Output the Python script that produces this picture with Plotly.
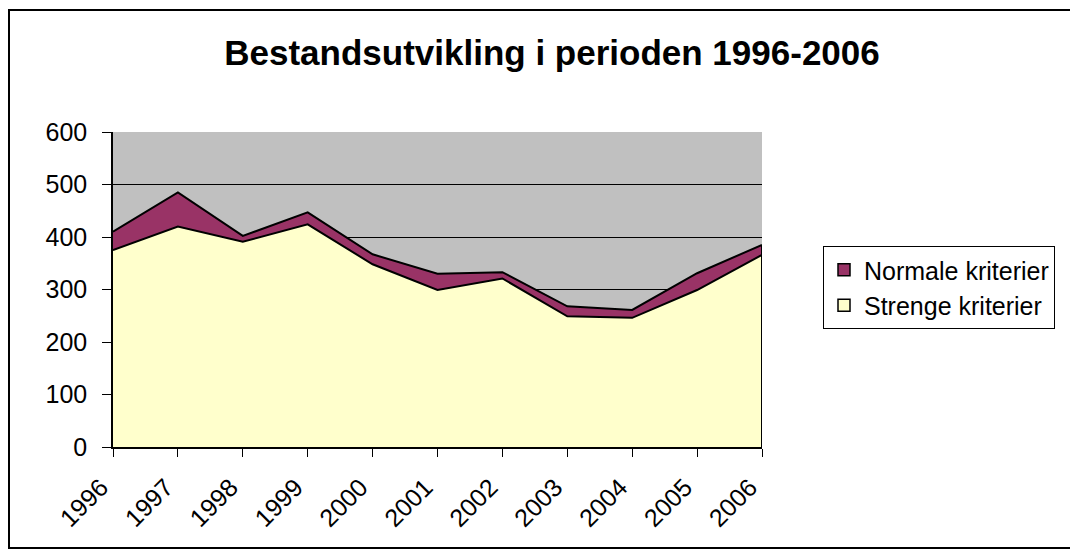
import plotly.graph_objects as go

years = [1996, 1997, 1998, 1999, 2000, 2001, 2002, 2003, 2004, 2005, 2006]
year_labels = [str(y) for y in years]
strenge = [375, 420, 391, 424, 348, 299, 321, 249, 246, 299, 366]
normale = [35, 65, 11, 23, 19, 31, 12, 19, 15, 32, 19]
y_ticks = [0, 100, 200, 300, 400, 500, 600]

FONT = "Liberation Sans, Arial, sans-serif"
C_STRENGE = "#FFFFCC"
C_NORMALE = "#993366"

fig = go.Figure()
fig.add_trace(go.Scatter(
    x=years, y=strenge, name="Strenge kriterier", stackgroup="one",
    mode="lines", line=dict(color="black", width=2),
    fillcolor=C_STRENGE, showlegend=False,
))
fig.add_trace(go.Scatter(
    x=years, y=normale, name="Normale kriterier", stackgroup="one",
    mode="lines", line=dict(color="black", width=2),
    fillcolor=C_NORMALE, showlegend=False,
))
# right edge of the area polygon
total_last = strenge[-1] + normale[-1]
fig.add_trace(go.Scatter(
    x=[years[-1], years[-1]], y=[0, total_last], mode="lines",
    line=dict(color="black", width=2), showlegend=False, hoverinfo="skip",
))
# legend entries with square swatches
fig.add_trace(go.Bar(x=[None], y=[None], name="Normale kriterier",
                     marker=dict(color=C_NORMALE, line=dict(color="black", width=1.5))))
fig.add_trace(go.Bar(x=[None], y=[None], name="Strenge kriterier",
                     marker=dict(color=C_STRENGE, line=dict(color="black", width=1.5))))

OFF = 8  # page body margin
L, R, T, B = 113 - OFF, 762 - OFF, 132 - OFF, 447 - OFF
W, H = 1078 - OFF, 553 - OFF
pw, ph = R - L, B - T

def px(x):
    return (x - OFF - L) / pw

def py(y):
    return (B - (y - OFF)) / ph

fig.add_shape(type="rect", xref="paper", yref="paper",
              x0=px(9), x1=px(1076), y0=py(548), y1=py(10),
              line=dict(color="black", width=2), layer="below")

fig.update_layout(
    width=W, height=H,
    margin=dict(l=L, r=W - R, t=T, b=H - B),
    paper_bgcolor="white",
    plot_bgcolor="#C0C0C0",
    font=dict(family=FONT, size=25, color="black"),
    title=dict(text="<b>Bestandsutvikling i perioden 1996-2006</b>",
               font=dict(family=FONT, size=35, color="black"),
               xref="paper", x=px(552), xanchor="center",
               yref="container", y=1 - (53 - OFF) / H, yanchor="middle"),
    legend=dict(x=px(823), y=py(246), xanchor="left", yanchor="top",
                bordercolor="black", borderwidth=1, bgcolor="white",
                traceorder="normal",
                font=dict(family=FONT, size=25, color="black")),
    showlegend=True,
)
fig.update_xaxes(
    range=[years[0], years[-1]], tickvals=years, ticktext=year_labels,
    tickangle=-45, ticks="outside", ticklen=8, tickcolor="black",
    showgrid=False, showline=True, linecolor="black", linewidth=1.5,
    zeroline=False, tickfont=dict(size=25),
    ticklabelshift=-12, ticklabelstandoff=6,
)
fig.update_yaxes(
    range=[0, 600], tickvals=y_ticks, ticks="outside", ticklen=9,
    tickcolor="black", showgrid=True, gridcolor="black", gridwidth=1,
    showline=True, linecolor="black", linewidth=1.5, zeroline=False,
    tickfont=dict(size=25), ticklabelstandoff=10,
)

fig.write_html("out.html")
